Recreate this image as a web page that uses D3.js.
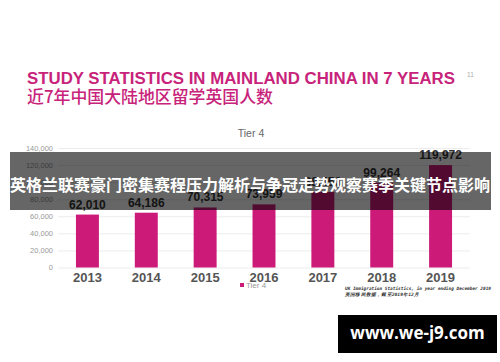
<!DOCTYPE html>
<html><head><meta charset="utf-8">
<script src="https://cdn.jsdelivr.net/npm/d3@7"></script>
<style>html,body{margin:0;padding:0;background:#fff;}svg{display:block;}</style>
</head><body>
<svg id="c" width="500" height="362"></svg>
<script>
const years = ["2013","2014","2015","2016","2017","2018","2019"];
const students = [62010, 64186, 70315, 73959, 88456, 99264, 119972];
const yTicks = [0, 20000, 40000, 60000, 80000, 100000, 120000, 140000];
const titleEn = "STUDY STATISTICS IN MAINLAND CHINA IN 7 YEARS";
const titleZh = "近7年中国大陆地区留学英国人数";
const seriesName = "Tier 4";
const sourceLines = ["UK Immigration Statistics, in year ending December 2019", "英国移民数据，截至2019年12月"];
const sourceWidths = [146, 74];
const overlayText = "英格兰联赛豪门密集赛程压力解析与争冠走势观察赛季关键节点影响";
const watermark = "www.we-j9.com";

const svg = d3.select("#c");
const pink = "#cc1a78";
const x = d3.scaleBand().domain(years).range([58, 470]).paddingInner(0.61).paddingOuter(0.305);
const y = d3.scaleLinear().domain([0, 140000]).range([267.5, 148]);

svg.append("rect").attr("width",500).attr("height",362).attr("fill","#fff");

// titles
svg.append("text").attr("x",27).attr("y",84).attr("fill","#c8237a")
  .attr("font-family","Liberation Sans, Arial, sans-serif").attr("font-weight","bold")
  .attr("font-size",15.6).attr("textLength",428).attr("lengthAdjust","spacingAndGlyphs").text(titleEn);
svg.append("text").attr("x",467).attr("y",77).attr("fill","#aaa").attr("font-size",6.5)
  .attr("font-family","Liberation Sans, Arial, sans-serif").text("11");
svg.append("text").attr("x",27).attr("y",103).attr("fill","#c8237a")
  .attr("font-family","Noto Sans CJK SC, sans-serif").attr("font-weight",500)
  .attr("font-size",17).attr("textLength",246).attr("lengthAdjust","spacingAndGlyphs").text(titleZh);

svg.append("text").attr("x",251).attr("y",137).attr("text-anchor","middle").attr("fill","#666")
  .attr("font-family","Liberation Sans, Arial, sans-serif").attr("font-size",10.5).text(seriesName);

// grid + axis
const yAxis = d3.axisLeft(y).tickValues(yTicks).tickSize(-412).tickPadding(5)
  .tickFormat(d3.format(","));
const ga = svg.append("g").attr("transform","translate(58,0)").call(yAxis);
ga.select(".domain").remove();
ga.selectAll(".tick line").attr("stroke","#ececec").attr("stroke-width",1);
ga.selectAll(".tick text").attr("fill","#999").attr("font-size",7.5)
  .attr("font-family","Liberation Sans, Arial, sans-serif");

// bars
svg.append("g").selectAll("rect").data(students).join("rect")
  .attr("x",(d,i)=>x(years[i])).attr("width",x.bandwidth())
  .attr("y",d=>y(d)).attr("height",d=>y(0)-y(d)).attr("fill",pink);

svg.append("g").selectAll("text").data(students).join("text")
  .attr("x",(d,i)=>x(years[i])+x.bandwidth()/2).attr("y",d=>y(d)-6)
  .attr("text-anchor","middle").attr("fill","#333").attr("font-weight","bold")
  .attr("font-family","Liberation Sans, Arial, sans-serif").attr("font-size",12)
  .text(d=>d3.format(",")(d));

// x labels
const xAxis = d3.axisBottom(x).tickSize(0).tickPadding(0);
const gx = svg.append("g").attr("transform","translate(0,273)").call(xAxis);
gx.select(".domain").remove();
gx.selectAll(".tick text").attr("fill","#555").attr("font-weight","bold").attr("font-size",13)
  .attr("font-family","Liberation Sans, Arial, sans-serif").attr("dy","0.71em");

// legend
svg.append("rect").attr("x",240).attr("y",283).attr("width",4).attr("height",4).attr("fill",pink);
svg.append("text").attr("x",246).attr("y",288).attr("fill","#999").attr("font-size",8)
  .attr("font-family","Liberation Sans, Arial, sans-serif").text(seriesName);

// source
svg.append("g").selectAll("text").data(sourceLines).join("text")
  .attr("x",345).attr("y",(d,i)=>290+i*6).attr("fill","#333").attr("font-size",4.5)
  .attr("font-style","italic").attr("font-weight","bold")
  .attr("textLength",(d,i)=>sourceWidths[i]).attr("lengthAdjust","spacingAndGlyphs")
  .attr("font-family","DejaVu Sans Mono, monospace").text(d=>d);

// overlay
svg.append("rect").attr("x",10).attr("y",152).attr("width",481).attr("height",58)
  .attr("fill","#000").attr("fill-opacity",0.6);
svg.append("text").attr("x",250).attr("y",187).attr("text-anchor","middle").attr("fill","#fff")
  .attr("font-family","Noto Sans CJK SC, sans-serif").attr("font-weight","bold")
  .attr("font-size",16).attr("dominant-baseline","middle").text(overlayText);

// watermark
svg.append("rect").attr("x",338).attr("y",315).attr("width",159).attr("height",38).attr("fill","#000");
svg.append("text").attr("x",417.5).attr("y",334).attr("text-anchor","middle").attr("dominant-baseline","middle")
  .attr("fill","#fff").attr("font-weight","bold").attr("font-size",17)
  .attr("font-family","Open Sans, DejaVu Sans, sans-serif").text(watermark);
</script>
</body></html>
